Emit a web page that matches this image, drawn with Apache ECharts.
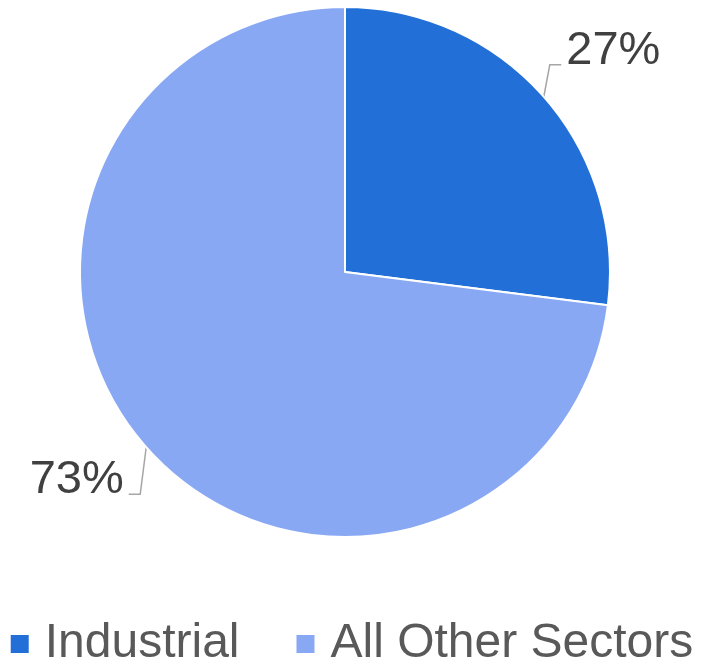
<!DOCTYPE html>
<html><head><meta charset="utf-8">
<script src="https://cdn.jsdelivr.net/npm/echarts@6/dist/echarts.min.js"></script>
<style>html,body{margin:0;padding:0;background:#fff}#c{width:702px;height:665px}</style>
</head><body><div id="c"></div>
<script>
const categories = ['Industrial', 'All Other Sectors'];
const values = [27, 73];
const colors = ['#2270D7', '#89A8F3'];
const labelShiftY = [-34, 21];

const chart = echarts.init(document.getElementById('c'), null, {renderer: 'canvas'});
chart.setOption({
  animation: false,
  legend: {
    bottom: -8,
    left: 'center',
    itemWidth: 20,
    itemHeight: 20,
    itemGap: 55,
    icon: 'rect',
    textStyle: {fontFamily: 'Liberation Sans', fontSize: 48, color: '#595959', padding: [0, 0, 10, 10]},
    data: categories
  },
  series: [{
    type: 'pie',
    center: [345, 272],
    radius: [0, 265],
    startAngle: 90,
    clockwise: true,
    avoidLabelOverlap: false,
    itemStyle: {borderColor: '#fff', borderWidth: 2},
    label: {
      show: true,
      formatter: '{d}%',
      fontFamily: 'Liberation Sans',
      fontSize: 47,
      color: '#404040'
    },
    labelLine: {show: true, length: 18, length2: 4, lineStyle: {color: '#A6A6A6', width: 1.5}},
    labelLayout: function (p) {
      const dy = labelShiftY[p.dataIndex];
      const out = {dy: dy};
      const pts = p.labelLinePoints;
      if (pts && pts.length === 3) {
        const y = pts[2][1] + dy + 14;
        const dir = pts[2][0] > pts[0][0] ? 1 : -1;
        out.labelLinePoints = [
          [pts[0][0], pts[0][1]],
          [pts[0][0] + dir * 6, y],
          [pts[2][0], y]
        ];
      }
      return out;
    },
    emphasis: {disabled: true},
    data: categories.map((n, i) => ({
      name: n, value: values[i],
      itemStyle: {color: colors[i]}
    }))
  }]
});
</script></body></html>
